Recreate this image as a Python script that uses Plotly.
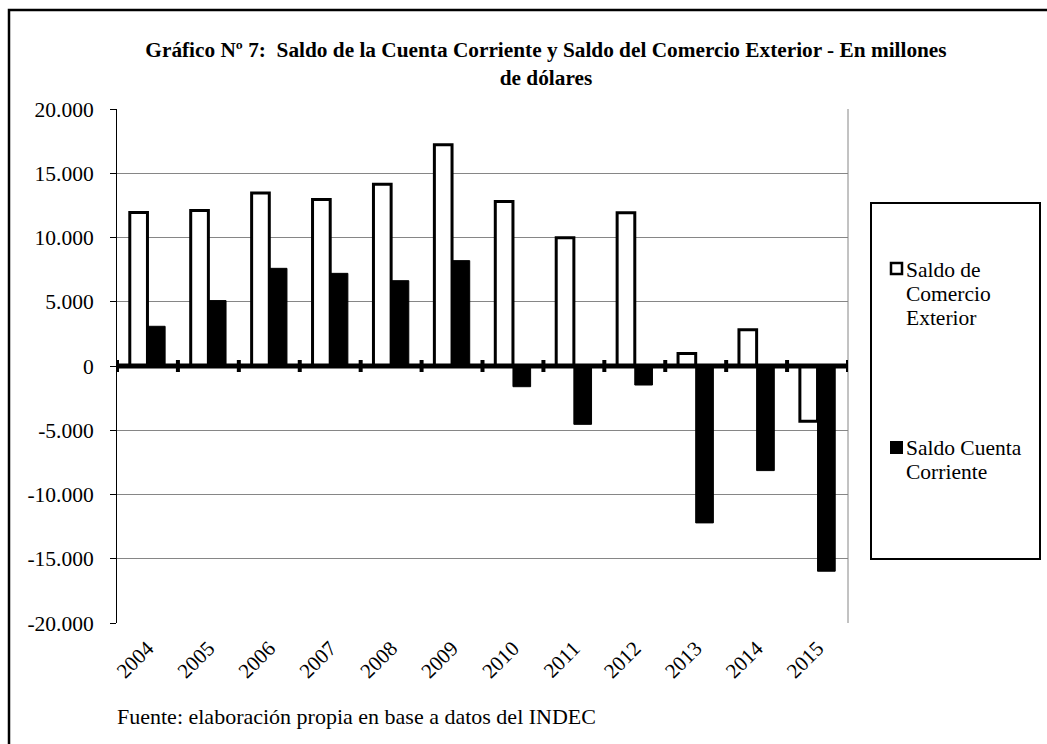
import plotly.graph_objects as go

# Balances in millions of US dollars
years = ["2004", "2005", "2006", "2007", "2008", "2009",
         "2010", "2011", "2012", "2013", "2014", "2015"]
saldo_comercio = [11940, 12110, 13460, 12950, 14140, 17220,
                  12810, 9990, 11930, 970, 2830, -4300]
saldo_cuenta = [3090, 5090, 7600, 7210, 6640, 8200,
                -1610, -4540, -1480, -12210, -8140, -15970]
y_ticks = [20000, 15000, 10000, 5000, 0, -5000, -10000, -15000, -20000]
y_labels = [f"{v:,}".replace(",", ".") for v in y_ticks]
legend_lines = [["Saldo de", "Comercio", "Exterior"],
                ["Saldo Cuenta", "Corriente"]]

FONT = "Liberation Serif, Times New Roman, serif"
W, H = 1047, 744
ML, MR, MT, MB = 117, 199, 109, 121
PW, PH = W - ML - MR, H - MT - MB


def px_x(px):
    return (px - ML) / PW


def px_y(py):
    return (H - MB - py) / PH


idx = list(range(len(years)))

fig = go.Figure()
fig.add_trace(go.Bar(
    x=idx, y=saldo_comercio, name="Saldo de Comercio Exterior",
    marker=dict(color="white", line=dict(color="black", width=3)),
    showlegend=False,
))
fig.add_trace(go.Bar(
    x=idx, y=saldo_cuenta, name="Saldo Cuenta Corriente",
    marker=dict(color="black", line=dict(color="black", width=1)),
    showlegend=False,
))

shapes = []
# outer frame of the figure
shapes.append(dict(type="rect", xref="paper", yref="paper",
                   x0=px_x(9), x1=px_x(1060), y0=px_y(760), y1=px_y(10),
                   line=dict(color="black", width=2.5), layer="below"))
# right border of plot area
shapes.append(dict(type="line", xref="paper", yref="paper",
                   x0=1, x1=1, y0=0, y1=1,
                   line=dict(color="#868686", width=1)))
# category axis drawn at zero
shapes.append(dict(type="line", xref="x", yref="y",
                   x0=-0.5, x1=len(years) - 0.5, y0=0, y1=0,
                   line=dict(color="black", width=5)))
for i in range(len(years) + 1):
    shapes.append(dict(type="line", xref="x", yref="y",
                       ysizemode="pixel", yanchor=0,
                       x0=i - 0.5, x1=i - 0.5, y0=-6, y1=6,
                       line=dict(color="black", width=4)))
# legend box and keys
shapes.append(dict(type="rect", xref="paper", yref="paper",
                   x0=px_x(871), x1=px_x(1040), y0=px_y(559), y1=px_y(203),
                   line=dict(color="black", width=2), fillcolor="white"))
shapes.append(dict(type="rect", xref="paper", yref="paper",
                   x0=px_x(891), x1=px_x(902), y0=px_y(274), y1=px_y(263),
                   line=dict(color="black", width=2.5), fillcolor="white"))
shapes.append(dict(type="rect", xref="paper", yref="paper",
                   x0=px_x(890), x1=px_x(903), y0=px_y(454), y1=px_y(441),
                   line=dict(color="black", width=0), fillcolor="black"))

annotations = []
legend_first_baseline = [277, 455]
for lines, base in zip(legend_lines, legend_first_baseline):
    for k, line in enumerate(lines):
        annotations.append(dict(
            text=line, xref="paper", yref="paper",
            x=px_x(904), y=px_y(base + 24 * k - 7),
            xanchor="left", yanchor="middle", showarrow=False,
            font=dict(family=FONT, size=21.5, color="black")))
annotations.append(dict(
    text="Fuente: elaboración propia en base a datos del INDEC",
    xref="paper", yref="paper", x=px_x(115), y=px_y(716),
    xanchor="left", yanchor="middle", showarrow=False,
    font=dict(family=FONT, size=22, color="black")))

fig.update_layout(
    width=W, height=H,
    margin=dict(l=ML, r=MR, t=MT, b=MB),
    paper_bgcolor="white", plot_bgcolor="white",
    barmode="group", bargap=0.42, bargroupgap=0,
    font=dict(family=FONT, size=21, color="black"),
    title=dict(
        text="<b>Gráfico Nº 7:  Saldo de la Cuenta Corriente y Saldo del Comercio Exterior - En millones<br>de dólares</b>",
        xref="container", yref="container",
        x=546 / W, xanchor="center", y=1 - 57 / H, yanchor="top",
        font=dict(family=FONT, size=21.3, color="black"),
    ),
    xaxis=dict(
        range=[-0.5, len(years) - 0.5], tickvals=idx, ticktext=years,
        tickangle=-45, showgrid=False, zeroline=False, showline=False,
        ticks="", ticklabelstandoff=8,
        tickfont=dict(family=FONT, size=21, color="black"),
    ),
    yaxis=dict(
        range=[-20000, 20000], tickvals=y_ticks, ticktext=y_labels,
        showgrid=True, gridcolor="#868686", gridwidth=1,
        zeroline=False, showline=True, linecolor="black", linewidth=1,
        ticks="outside", ticklen=6, tickcolor="black", tickwidth=1,
        ticklabelstandoff=12,
        tickfont=dict(family=FONT, size=21.5, color="black"),
    ),
    shapes=shapes,
    annotations=annotations,
)

fig.write_html("out.html")
